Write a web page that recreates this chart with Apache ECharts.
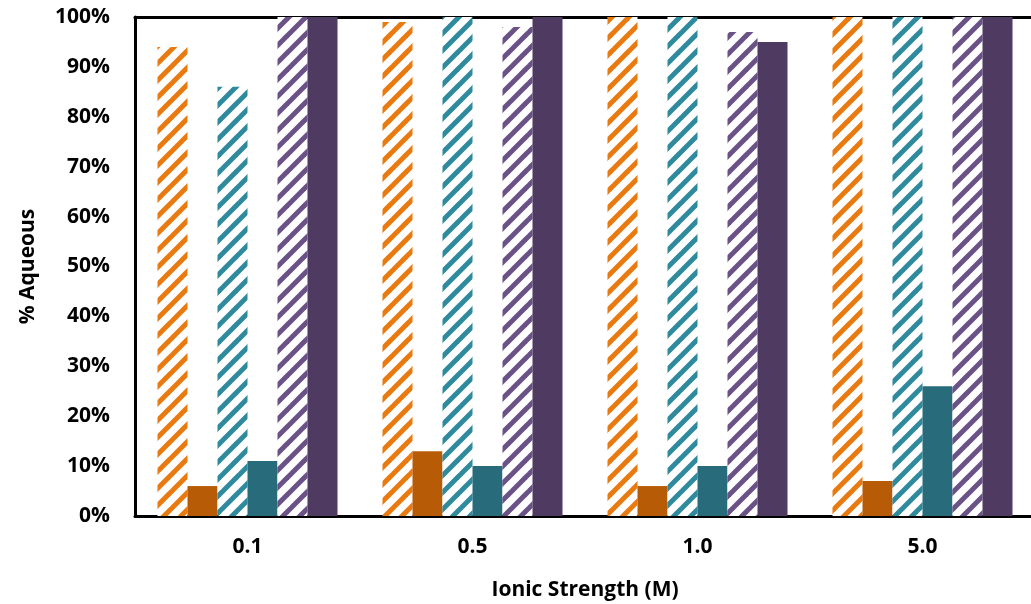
<!DOCTYPE html>
<html>
<head>
<meta charset="utf-8">
<style>
  html, body { margin: 0; padding: 0; background: #ffffff; overflow: hidden; }
  #chart { width: 1031px; height: 604px; }
</style>
<script src="https://cdn.jsdelivr.net/npm/echarts@6/dist/echarts.min.js"></script>
</head>
<body>
<div id="chart"></div>
<script>
// Ionic strength categories (M)
var categories = ['0.1', '0.5', '1.0', '5.0'];

// Percent remaining in the aqueous phase, six series per ionic strength
var orangeHatched = [94, 99, 100, 100];
var orangeSolid   = [6, 13, 6, 7];
var tealHatched   = [86, 100, 100, 100];
var tealSolid     = [11, 10, 10, 26];
var purpleHatched = [100, 98, 97, 100];
var purpleSolid   = [100, 100, 95, 100];

var yTicks = [0, 10, 20, 30, 40, 50, 60, 70, 80, 90, 100];

// Diagonal stripe fill for the hatched bars
function stripes(color) {
  var p = 17;
  var c = document.createElement('canvas');
  c.width = p; c.height = p;
  var ctx = c.getContext('2d');
  ctx.fillStyle = '#ffffff';
  ctx.fillRect(0, 0, p, p);
  ctx.strokeStyle = color;
  ctx.lineWidth = 5;
  ctx.lineCap = 'square';
  [-p, 0, p].forEach(function (o) {
    ctx.beginPath();
    ctx.moveTo(o - 2, p + 2);
    ctx.lineTo(o + p + 2, -2);
    ctx.stroke();
  });
  return { image: c, repeat: 'repeat' };
}

var font = '"Open Sans", Lato, sans-serif';

function bar(name, data, color) {
  return {
    name: name,
    type: 'bar',
    data: data,
    barGap: '0%',
    barCategoryGap: '20%',
    itemStyle: { color: color },
    emphasis: { disabled: true }
  };
}

var chart = echarts.init(document.getElementById('chart'), null, { renderer: 'canvas' });
chart.setOption({
  animation: false,
  backgroundColor: '#ffffff',
  grid: {
    left: 135, right: -4, top: 17, bottom: 88,
    outerBoundsMode: 'none',
    containLabel: false,
    show: false
  },
  // keep the plot open on its right side (the frame runs off the edge)
  graphic: [{
    type: 'rect',
    right: 0,
    top: 19,
    z: 100,
    shape: { width: 14, height: 495 },
    style: { fill: '#ffffff' },
    silent: true
  }],
  xAxis: [{
    type: 'category',
    data: categories,
    name: 'Ionic Strength (M)',
    nameLocation: 'middle',
    nameGap: 64,
    nameTextStyle: { fontFamily: font, fontWeight: 'bold', fontSize: 21, color: '#000' },
    axisLine: { show: true, lineStyle: { color: '#000', width: 3 } },
    axisTick: { show: false },
    axisLabel: { fontFamily: font, fontWeight: 'bold', fontSize: 21, color: '#000', margin: 21 },
    splitLine: { show: false }
  }, {
    // frame line along the top of the plot
    type: 'category',
    position: 'top',
    data: categories,
    axisLine: { show: true, lineStyle: { color: '#000', width: 3 } },
    axisTick: { show: false },
    axisLabel: { show: false },
    splitLine: { show: false }
  }],
  yAxis: {
    type: 'value',
    min: 0, max: 100, interval: 10,
    name: '% Aqueous',
    nameLocation: 'middle',
    nameGap: 96,
    nameTextStyle: { fontFamily: font, fontWeight: 'bold', fontSize: 21, color: '#000' },
    axisLine: { show: true, lineStyle: { color: '#000', width: 3 } },
    axisTick: { show: false },
    splitLine: { show: false },
    axisLabel: {
      fontFamily: font, fontWeight: 'bold', fontSize: 21, color: '#000', margin: 25,
      formatter: function (v) { return yTicks.indexOf(v) >= 0 ? v + '%' : ''; }
    }
  },
  series: [
    bar('orange hatched', orangeHatched, stripes('#E97A10')),
    bar('orange', orangeSolid, '#B85B06'),
    bar('teal hatched', tealHatched, stripes('#2E8A9C')),
    bar('teal', tealSolid, '#286B7B'),
    bar('purple hatched', purpleHatched, stripes('#6A5287')),
    bar('purple', purpleSolid, '#4F3A62')
  ]
});
</script>
</body>
</html>
